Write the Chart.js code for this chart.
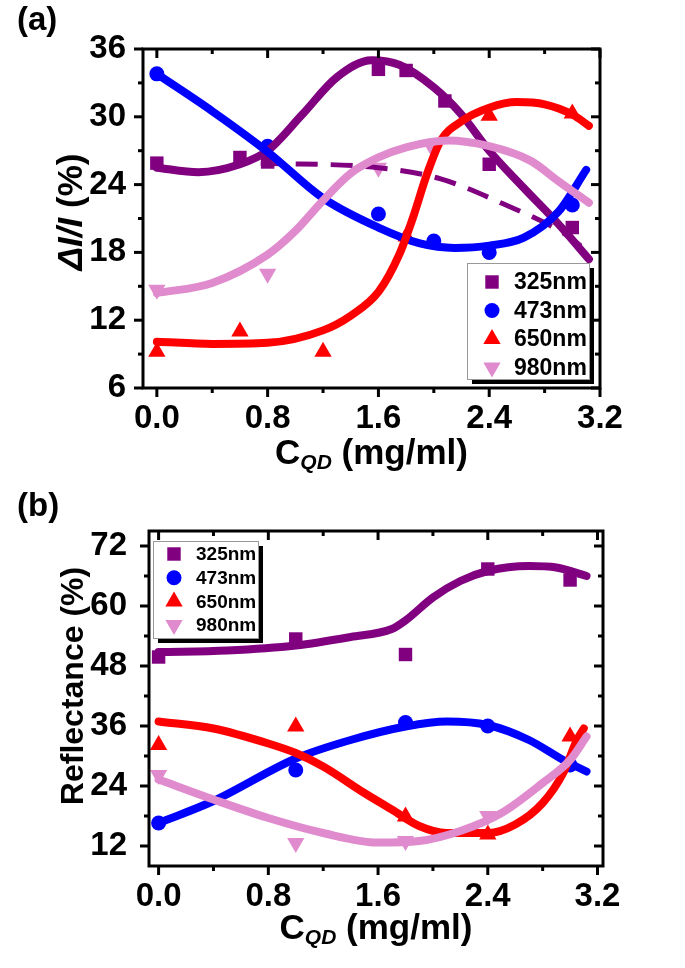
<!DOCTYPE html>
<html>
<head>
<meta charset="utf-8">
<script src="https://cdn.jsdelivr.net/npm/chart.js@4.4.1/dist/chart.umd.min.js"></script>
<style>
    html, body { margin: 0; padding: 0; background: #fff; }
    #wrap { position: relative; width: 685px; height: 968px; }
    .panel { position: absolute; left: 0; width: 685px; }
    .tag { position: absolute; left: 17px; font: bold 33px "Liberation Sans", Arial, sans-serif; color: #000; }
</style>
</head>
<body>
<div id="wrap">
    <div class="panel" style="top:0;height:480px"><canvas id="chartA" width="685" height="480"></canvas></div>
    <div class="panel" style="top:480px;height:488px"><canvas id="chartB" width="685" height="488"></canvas></div>
    <div class="tag" style="top:0px">(a)</div>
    <div class="tag" style="top:486px">(b)</div>
</div>
<script>
// ---- series info
const seriesNames = ['325nm', '473nm', '650nm', '980nm'];
const seriesColors = ['#800080', '#0000ff', '#ff0000', '#e08bcd'];

// ---- axes
const xTicks = [0, 0.8, 1.6, 2.4, 3.2];
const xMinor = [0.4, 1.2, 2.0, 2.8];
const aYTicks = [6, 12, 18, 24, 30, 36];
const aYMinor = [9, 15, 21, 27, 33];
const bYTicks = [12, 24, 36, 48, 60, 72];
const bYMinor = [18, 30, 42, 54, 66];

// ---- panel (a): measured points, dI/I (%)
const a325x = [0, 0.6, 0.8, 1.6, 1.8, 2.08, 2.4, 3.0];
const a325y = [25.9, 26.4, 26.0, 34.2, 34.1, 31.4, 25.8, 20.2];
const a473x = [0, 0.8, 1.6, 2.0, 2.4, 3.0];
const a473y = [33.8, 27.4, 21.4, 19.0, 18.0, 22.2];
const a650x = [0, 0.6, 1.2, 1.8, 2.4, 3.0];
const a650y = [9.2, 11.0, 9.2, 19.4, 30.1, 30.3];
const a980x = [0, 0.8, 1.6, 2.0];
const a980y = [14.7, 16.1, 25.5, 27.0];

// panel (a): fitted curves
const aFit325x = [0, 0.3, 0.6, 0.8, 1.05, 1.3, 1.55, 1.75, 2.0, 2.2, 2.4, 2.65, 2.9, 3.12];
const aFit325y = [25.5, 25.1, 25.8, 27.0, 30.2, 33.5, 35.0, 34.6, 32.6, 30.2, 27.0, 23.7, 20.5, 17.4];
const aDash325x = [0.75, 1.6, 2.05, 2.5, 2.95, 3.12];
const aDash325y = [25.9, 25.5, 24.5, 22.3, 19.6, 18.0];
const aFit473x = [0, 0.4, 0.8, 1.2, 1.6, 1.9, 2.15, 2.4, 2.65, 2.9, 3.1];
const aFit473y = [33.8, 30.5, 26.9, 22.8, 20.2, 18.8, 18.4, 18.6, 19.3, 21.6, 25.3];
const aFit650x = [0, 0.4, 0.8, 1.2, 1.4, 1.6, 1.75, 1.85, 1.95, 2.05, 2.2, 2.4, 2.6, 2.8, 3.0, 3.12];
const aFit650y = [10.1, 9.9, 10.0, 11.1, 12.4, 14.5, 17.8, 21.1, 24.9, 27.9, 29.6, 30.8, 31.3, 31.1, 30.2, 29.2];
const aFit980x = [0, 0.4, 0.8, 1.0, 1.2, 1.4, 1.6, 1.8, 2.1, 2.4, 2.7, 2.9, 3.12];
const aFit980y = [14.4, 15.3, 17.8, 19.9, 22.6, 25.0, 26.4, 27.3, 27.9, 27.4, 26.1, 24.3, 22.4];

// ---- panel (b): measured points, reflectance (%)
const b325x = [0, 1.0, 1.8, 2.4, 3.0];
const b325y = [49.8, 53.4, 50.3, 67.4, 65.2];
const b473x = [0, 1.0, 1.8, 2.4, 3.0];
const b473y = [16.6, 27.2, 36.7, 36.0, 28.2];
const b650x = [0, 1.0, 1.8, 2.4, 3.0];
const b650y = [32.2, 35.9, 17.9, 14.3, 33.9];
const b980x = [0, 1.0, 1.8, 2.4];
const b980y = [26.2, 12.6, 13.0, 18.0];

// panel (b): fitted curves
const bFit325x = [0, 0.5, 1.0, 1.4, 1.7, 1.8, 2.0, 2.2, 2.4, 2.7, 2.9, 3.12];
const bFit325y = [50.8, 51.1, 52.1, 53.8, 55.4, 57.1, 61.7, 65.0, 67.0, 68.0, 67.7, 66.0];
const bFit473x = [0, 0.4, 1.0, 1.4, 1.8, 2.1, 2.4, 2.7, 2.95, 3.12];
const bFit473y = [16.6, 21.0, 29.5, 33.2, 35.9, 36.9, 36.2, 33.2, 29.2, 26.9];
const bFit650x = [0, 0.4, 0.8, 1.0, 1.2, 1.5, 1.7, 1.9, 2.1, 2.4, 2.6, 2.8, 2.95, 3.05, 3.1];
const bFit650y = [36.9, 35.5, 32.5, 30.6, 27.9, 22.6, 19.3, 16.0, 14.6, 14.6, 16.3, 20.6, 26.6, 33.2, 35.5];
const bFit980x = [0, 0.4, 0.8, 1.2, 1.6, 1.9, 2.2, 2.5, 2.8, 3.0, 3.12];
const bFit980y = [25.3, 21.3, 17.6, 14.6, 12.7, 13.0, 15.0, 18.6, 24.6, 29.2, 33.9];

const FONT = '"Liberation Sans", Arial, sans-serif';
const pts = (xs, ys) => xs.map((x, i) => ({ x: x, y: ys[i] }));

// marker look per series
const markers = [
    { style: 'rect', radius: 9.5, rotation: 0 },
    { style: 'circle', radius: 7.5, rotation: 0 },
    { style: 'triangle', radius: 10, rotation: 0 },
    { style: 'triangle', radius: 10, rotation: 180 },
];

function scatterSet(i, xs, ys) {
    return {
        data: pts(xs, ys),
        showLine: false,
        pointStyle: markers[i].style,
        pointRadius: markers[i].radius,
        pointRotation: markers[i].rotation,
        backgroundColor: seriesColors[i],
        borderColor: seriesColors[i],
        borderWidth: 0,
        order: 20 - i,
    };
}

function lineSet(i, xs, ys, dash) {
    return {
        data: pts(xs, ys),
        showLine: true,
        pointRadius: 0,
        borderColor: seriesColors[i],
        borderWidth: dash ? 5 : 8,
        borderDash: dash ? [22, 13] : [],
        borderCapStyle: dash ? 'butt' : 'round',
        cubicInterpolationMode: 'monotone',
        fill: false,
        order: dash ? 9 : 8 - i,
    };
}

// frame with inward/outward ticks, Origin style
const framePlugin = {
    id: 'frame',
    afterDatasetsDraw(chart, args, opts) {
        const { ctx, chartArea: a } = chart;
        const x = chart.scales.x, y = chart.scales.y;
        ctx.save();
        ctx.strokeStyle = '#000';
        ctx.lineWidth = 3;
        ctx.strokeRect(a.left, a.top, a.right - a.left, a.bottom - a.top);
        const tick = (px, py, dx, dy) => {
            ctx.beginPath();
            ctx.moveTo(px, py);
            ctx.lineTo(px + dx, py + dy);
            ctx.stroke();
        };
        xTicks.forEach(v => { const p = x.getPixelForValue(v); tick(p, a.bottom, 0, 9); tick(p, a.top, 0, 9); });
        xMinor.forEach(v => { const p = x.getPixelForValue(v); tick(p, a.bottom, 0, 5); tick(p, a.top, 0, 5); });
        opts.yMajor.forEach(v => { const p = y.getPixelForValue(v); tick(a.left, p, -9, 0); tick(a.right, p, -9, 0); });
        opts.yMinor.forEach(v => { const p = y.getPixelForValue(v); tick(a.left, p, -5, 0); tick(a.right, p, -5, 0); });
        ctx.restore();
    }
};

function drawMarker(ctx, i, cx, cy) {
    const m = markers[i];
    ctx.fillStyle = seriesColors[i];
    ctx.beginPath();
    if (m.style === 'rect') {
        const s = m.radius * Math.SQRT1_2;
        ctx.rect(cx - s, cy - s, 2 * s, 2 * s);
    } else if (m.style === 'circle') {
        ctx.arc(cx, cy, m.radius, 0, Math.PI * 2);
    } else {
        const r = m.radius, flip = m.rotation ? -1 : 1;
        for (let k = 0; k < 3; k++) {
            const ang = -Math.PI / 2 + k * 2 * Math.PI / 3;
            const px = cx + r * Math.cos(ang), py = cy + flip * r * Math.sin(ang);
            k ? ctx.lineTo(px, py) : ctx.moveTo(px, py);
        }
        ctx.closePath();
    }
    ctx.fill();
}

// legend box with shadow
const boxLegend = {
    id: 'boxLegend',
    afterDraw(chart, args, o) {
        const ctx = chart.ctx;
        ctx.save();
        ctx.fillStyle = '#000';
        ctx.fillRect(o.left + 5, o.top + 5, o.width, o.height);
        ctx.fillStyle = '#fff';
        ctx.fillRect(o.left, o.top, o.width, o.height);
        ctx.strokeStyle = '#999';
        ctx.lineWidth = 1;
        ctx.strokeRect(o.left + 0.5, o.top + 0.5, o.width, o.height);
        ctx.font = 'bold ' + o.fontSize + 'px ' + FONT;
        ctx.textBaseline = 'middle';
        seriesNames.forEach((name, i) => {
            const cy = o.top + o.firstRow + i * o.rowGap;
            drawMarker(ctx, i, o.markerX, cy);
            ctx.fillStyle = '#000';
            ctx.fillText(name, o.textX, cy + 1);
        });
        ctx.restore();
    }
};

// axis titles with mixed styles
function drawPieces(ctx, pieces, cx, baseline) {
    let total = 0;
    pieces.forEach(p => { ctx.font = p.f; total += ctx.measureText(p.t).width; });
    let px = cx - total / 2;
    pieces.forEach(p => {
        ctx.font = p.f;
        ctx.fillText(p.t, px, baseline + (p.dy || 0));
        px += ctx.measureText(p.t).width;
    });
}

const axisTitles = {
    id: 'axisTitles',
    afterDraw(chart, args, o) {
        const { ctx, chartArea: a } = chart;
        ctx.save();
        ctx.fillStyle = '#000';
        ctx.textBaseline = 'alphabetic';
        drawPieces(ctx, o.xPieces, (a.left + a.right) / 2, a.bottom + o.xOffset);
        ctx.translate(o.yX, o.yY);
        ctx.rotate(-Math.PI / 2);
        drawPieces(ctx, o.yPieces, 0, 0);
        ctx.restore();
    }
};

const xTitle = [
    { t: 'C', f: 'bold 35px ' + FONT },
    { t: 'QD', f: 'italic bold 21px ' + FONT, dy: 5 },
    { t: ' (mg/ml)', f: 'bold 35px ' + FONT },
];

function makeChart(canvasId, H, area, yMin, yMax, yTicks, yMinor, datasets, legendOpts, yPieces, yTitlePos, xOffset, yPad) {
    return new Chart(document.getElementById(canvasId), {
        type: 'scatter',
        data: { datasets: datasets },
        options: {
            responsive: false,
            animation: false,
            layout: { padding: { left: 0, top: area.top, right: 685 - area.right, bottom: 0 } },
            plugins: {
                legend: { display: false },
                tooltip: { enabled: false },
                frame: { yMajor: yTicks, yMinor: yMinor },
                boxLegend: legendOpts,
                axisTitles: { xPieces: xTitle, xOffset: xOffset, yPieces: yPieces, yX: yTitlePos[0], yY: yTitlePos[1] },
            },
            scales: {
                x: {
                    type: 'linear',
                    min: area.xMin,
                    max: area.xMax,
                    afterBuildTicks: s => { s.ticks = xTicks.map(v => ({ value: v })); },
                    afterFit: s => { s.height = H - area.bottom; },
                    grid: { display: false },
                    border: { display: false },
                    ticks: {
                        color: '#000',
                        padding: 3,
                        maxRotation: 0,
                        autoSkip: false,
                        font: { family: FONT, size: 33, weight: 'bold' },
                        callback: v => Number(v).toFixed(1),
                    },
                },
                y: {
                    type: 'linear',
                    min: yMin,
                    max: yMax,
                    afterBuildTicks: s => { s.ticks = yTicks.map(v => ({ value: v })); },
                    afterFit: s => { s.width = area.left; },
                    grid: { display: false },
                    border: { display: false },
                    ticks: {
                        color: '#000',
                        padding: yPad,
                        autoSkip: false,
                        font: { family: FONT, size: 33, weight: 'bold' },
                    },
                },
            },
        },
        plugins: [framePlugin, boxLegend, axisTitles],
    });
}

const dataA = [
    scatterSet(0, a325x, a325y),
    scatterSet(1, a473x, a473y),
    scatterSet(2, a650x, a650y),
    scatterSet(3, a980x, a980y),
    lineSet(0, aDash325x, aDash325y, true),
    lineSet(0, aFit325x, aFit325y),
    lineSet(1, aFit473x, aFit473y),
    lineSet(2, aFit650x, aFit650y),
    lineSet(3, aFit980x, aFit980y),
];

const dataB = [
    scatterSet(0, b325x, b325y),
    scatterSet(1, b473x, b473y),
    scatterSet(2, b650x, b650y),
    scatterSet(3, b980x, b980y),
    lineSet(0, bFit325x, bFit325y),
    lineSet(1, bFit473x, bFit473y),
    lineSet(2, bFit650x, bFit650y),
    lineSet(3, bFit980x, bFit980y),
];

makeChart('chartA', 480,
    { left: 143, right: 600, top: 49, bottom: 388, xMin: -0.1, xMax: 3.2 },
    6, 36, aYTicks, aYMinor, dataA,
    { left: 467, top: 263, width: 122, height: 116, markerX: 492, textX: 514, firstRow: 19, rowGap: 28.5, fontSize: 23 },
    [{ t: '\u0394I/I', f: 'italic bold 35px ' + FONT }, { t: ' (%)', f: 'bold 35px ' + FONT }],
    [82, 212], 76, 9);

makeChart('chartB', 488,
    { left: 149, right: 603, top: 51, bottom: 386, xMin: -0.07, xMax: 3.24 },
    8, 75, bYTicks, bYMinor, dataB,
    { left: 153, top: 61, width: 105, height: 97, markerX: 174, textX: 196, firstRow: 13, rowGap: 23.7, fontSize: 19 },
    [{ t: 'Reflectance (%)', f: 'bold 32px ' + FONT }],
    [83, 206], 73, 14);
</script>
</body>
</html>
